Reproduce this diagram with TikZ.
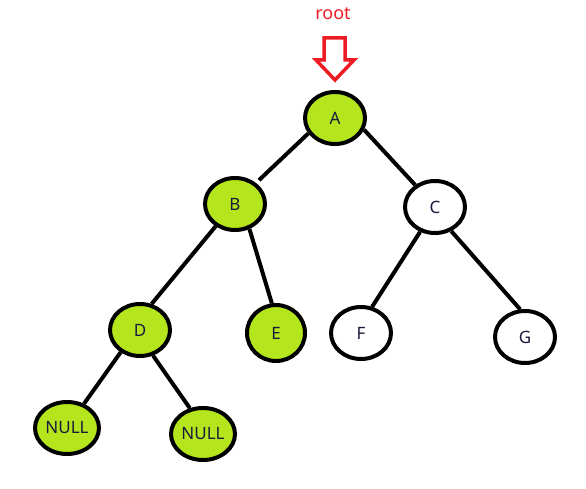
\documentclass[tikz,border=0pt]{standalone}
\usepackage{fontspec}
\setmainfont{Noto Sans}
\usetikzlibrary{shapes.geometric}
\definecolor{limegreen}{HTML}{B5E61D}
\definecolor{paintred}{HTML}{ED1C24}
\definecolor{inkblue}{HTML}{1A1A3A}

\begin{document}
\begin{tikzpicture}[x=1pt, y=-1pt,
  tnode/.style={ellipse, draw=black, line width=4pt, fill=#1,
    minimum width=60pt, minimum height=52pt, inner sep=0pt,
    font=\fontsize{17}{17}\selectfont, text=inkblue},
  tnode/.default=limegreen,
  edge/.style={line width=4pt, black},
]

% Canvas
\useasboundingbox (0,0) rectangle (586,489);

% Root marker
\node[font=\fontsize{18}{18}\selectfont, text=paintred] (rootlbl) at (333,14) {root};
\draw[paintred, line width=3.5pt, line join=miter]
  (324,38) -- (345,38) -- (345,60) -- (354,60) -- (335,80)
  -- (316,60) -- (324,60) -- cycle;

% Nodes
\node[tnode] (A) at (335,118) {A};
\node[tnode] (B) at (235,204) {B};
\node[tnode=white] (C) at (435,207) {C};
\node[tnode] (D) at (140,330) {D};
\node[tnode, minimum width=58pt, minimum height=56pt] (E) at (276,333) {E};
\node[tnode=white] (F) at (361,333) {F};
\node[tnode=white] (G) at (525,337) {G};
\node[tnode, minimum width=64pt] (N1) at (67,428) {NULL};
\node[tnode, minimum width=64pt] (N2) at (203,434) {NULL};

% Edges
\draw[edge, shorten >=4pt] (A.210) -- (B.45);
\draw[edge] (A.338) -- (C.132);
\draw[edge] (B.229) -- (D.66);
\draw[edge] (B.300) -- (E.98);
\draw[edge] (C.239) -- (F.67);
\draw[edge] (C.304) -- (G.100);
\draw[edge] (D.229) -- (N1.55);
\draw[edge] (D.297) -- (N2.117);

\end{tikzpicture}
\end{document}
